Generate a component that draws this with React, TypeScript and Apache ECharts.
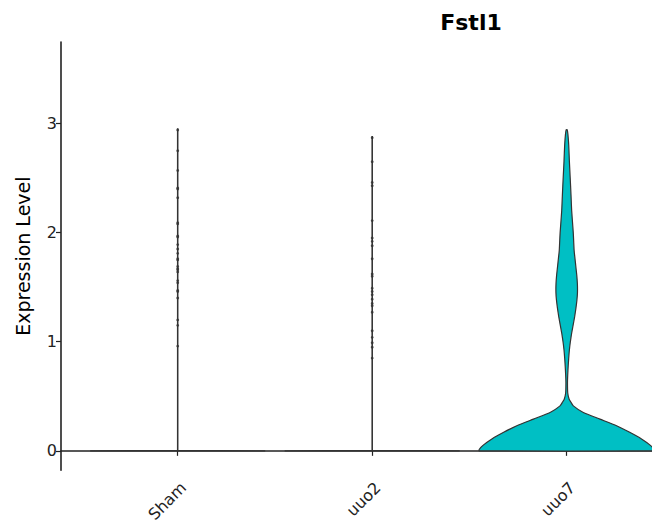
import React, { useEffect, useRef } from "react";
import * as echarts from "echarts";

const categories = ["Sham", "uuo2", "uuo7"];
const yTicks = [0, 1, 2, 3];
const title = "Fstl1";
const yName = "Expression Level";

// jittered points (non-zero cells)
const shamPoints = [2.94, 2.75, 2.57, 2.41, 2.4, 2.32, 2.09, 2.08, 1.97, 1.96, 1.89, 1.85, 1.81, 1.76, 1.75, 1.69, 1.67, 1.66, 1.64, 1.56, 1.54, 1.47, 1.46, 1.4, 1.2, 1.15, 0.96];
const uuo2Points = [2.87, 2.65, 2.46, 2.43, 2.11, 1.95, 1.92, 1.88, 1.76, 1.62, 1.6, 1.49, 1.46, 1.43, 1.39, 1.35, 1.33, 1.27, 1.1, 1.04, 0.99, 0.95, 0.85];

// violin profiles: levels (expression) and relative half widths
const shamLevels = [0, 0.004, 2.95];
const shamWidths = [1, 0.002, 0.002];
const uuo2Levels = [0, 0.004, 2.88];
const uuo2Widths = [1, 0.002, 0.002];
const uuo7Levels = [0, 0.012, 0.048, 0.109, 0.17, 0.23, 0.291, 0.352, 0.412, 0.45, 0.473, 0.53, 0.624, 0.7, 0.776, 0.85, 0.927, 1.0, 1.08, 1.15, 1.23, 1.31, 1.382, 1.45, 1.533, 1.61, 1.685, 1.76, 1.836, 1.9, 2.0, 2.2, 2.35, 2.503, 2.65, 2.806, 2.9, 2.943];
const uuo7Widths = [1.0, 1.0, 0.96, 0.855, 0.72, 0.57, 0.38, 0.19, 0.076, 0.045, 0.028, 0.012, 0.009, 0.012, 0.017, 0.023, 0.031, 0.042, 0.057, 0.073, 0.091, 0.106, 0.117, 0.123, 0.122, 0.115, 0.105, 0.095, 0.085, 0.081, 0.075, 0.057, 0.049, 0.04, 0.031, 0.023, 0.014, 0.006];
const fills = ["#333333", "#333333", "#00BFC4"];

const profiles = [
  { levels: shamLevels, widths: shamWidths },
  { levels: uuo2Levels, widths: uuo2Widths },
  { levels: uuo7Levels, widths: uuo7Widths },
];

export default function App() {
  const ref = useRef<HTMLDivElement>(null);
  useEffect(() => {
    if (!ref.current) return;
    const chart = echarts.init(ref.current, null, { renderer: "svg" });
    const font = "DejaVu Sans";
    const halfW = 0.45;
    const option: any = {
      animation: false,
      backgroundColor: "#ffffff",
      title: {
        text: title,
        left: 466,
        top: 6,
        textAlign: "center",
        textStyle: { fontFamily: font, fontWeight: "bold", fontSize: 22, color: "#000" },
      },
      grid: { left: 61, top: 42, right: 0, height: 428.5 },
      xAxis: {
        type: "value",
        min: 0.4,
        max: 3.4386,
        splitLine: { show: false },
        axisLine: { show: true, lineStyle: { color: "#222", width: 1.6 } },
        axisTick: { show: true, length: 5, customValues: [1, 2, 3], lineStyle: { color: "#222", width: 1.2 } },
        axisLabel: {
          customValues: [1, 2, 3],
          formatter: (v: number) => categories[Math.round(v) - 1] ?? "",
          rotate: 45,
          margin: 9,
          verticalAlign: "top",
          fontFamily: font,
          fontSize: 16,
          color: "#222",
        },
      },
      yAxis: {
        type: "value",
        min: -0.178,
        max: 3.747,
        name: yName,
        nameLocation: "middle",
        nameGap: 29,
        nameTextStyle: { fontFamily: font, fontSize: 19, color: "#000" },
        splitLine: { show: false },
        axisLine: { show: true, lineStyle: { color: "#222", width: 1.6 } },
        axisTick: { show: true, length: 5, customValues: yTicks, lineStyle: { color: "#222", width: 1.2 } },
        axisLabel: {
          customValues: yTicks,
          margin: 4,
          fontFamily: font,
          fontSize: 16,
          color: "#222",
        },
      },
      series: [
        {
          type: "custom",
          clip: false,
          data: categories.map((_, i) => [i + 1]),
          renderItem: (params: any, api: any) => {
            const i = params.dataIndex;
            const p = profiles[i];
            const cx = i + 1;
            const right = p.levels.map((lv, k) => api.coord([cx + p.widths[k] * halfW, lv]));
            const left = p.levels
              .map((lv, k) => api.coord([cx - p.widths[k] * halfW, lv]))
              .reverse();
            return {
              type: "polygon",
              shape: { points: right.concat(left), smooth: i === 2 ? 0.2 : 0 },
              style: { fill: fills[i], stroke: "#333333", lineWidth: 1.2 },
            };
          },
          z: 1,
        },
        {
          type: "scatter",
          data: shamPoints.map((v) => [1, v]).concat(uuo2Points.map((v) => [2, v])),
          symbolSize: 2.8,
          itemStyle: { color: "#333333", opacity: 0.85 },
          z: 2,
        },
      ],
    };
    chart.setOption(option);
    return () => chart.dispose();
  }, []);
  return <div ref={ref} style={{ position: "fixed", left: 0, top: 0, width: 652, height: 525 }} />;
}
